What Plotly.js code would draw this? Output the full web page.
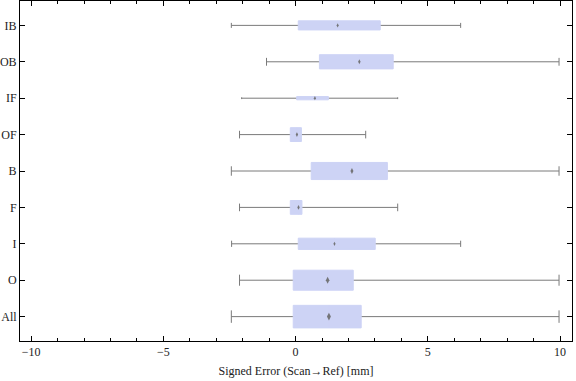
<!DOCTYPE html>
<html>
<head>
<meta charset="utf-8">
<script src="https://cdn.plot.ly/plotly-3.0.1.min.js"></script>
<style>html,body{margin:0;padding:0;background:#fff;}#chart{width:576px;height:381px;}</style>
</head>
<body>
<div id="chart"></div>
<script>
// Data (bottom to top)
var categories = ['All', 'O', 'I', 'F', 'B', 'OF', 'IF', 'OB', 'IB'];
var whiskerLow = [-2.43, -2.12, -2.42, -2.12, -2.43, -2.12, -2.04, -1.10, -2.43];
var q1Values = [-0.09, -0.09, 0.10, -0.20, 0.59, -0.20, 0.04, 0.90, 0.10];
var medianValues = [1.26, 1.21, 1.47, 0.11, 2.13, 0.05, 0.73, 2.41, 1.59];
var q3Values = [2.48, 2.18, 3.01, 0.24, 3.47, 0.22, 1.24, 3.69, 3.20];
var whiskerHigh = [9.96, 9.96, 6.24, 3.86, 9.96, 2.65, 3.86, 9.96, 6.24];
var xTickValues = [-10, -5, 0, 5, 10];

// Styles
var boxWidths = [0.62, 0.55, 0.31, 0.38, 0.47, 0.38, 0.09, 0.39, 0.25];
var fillColor = '#cdd3f5';
var whiskerColor = '#7a7a7a';
var font = 'Liberation Serif, Times New Roman, serif';

var traces = [];
for (var i = 0; i < categories.length; i++) {
  // whiskers (box collapsed at the median, hidden behind the filled box)
  traces.push({
    type: 'box', orientation: 'h',
    y: [categories[i]],
    lowerfence: [whiskerLow[i]], q1: [medianValues[i]], median: [medianValues[i]],
    q3: [medianValues[i]], upperfence: [whiskerHigh[i]],
    width: boxWidths[i] * 0.6, whiskerwidth: 0.92,
    line: {color: whiskerColor, width: 1},
    fillcolor: 'rgba(0,0,0,0)', boxpoints: false, hoverinfo: 'skip', showlegend: false
  });
  // filled interquartile box
  traces.push({
    type: 'box', orientation: 'h',
    y: [categories[i]],
    lowerfence: [q1Values[i]], q1: [q1Values[i]], median: [medianValues[i]],
    q3: [q3Values[i]], upperfence: [q3Values[i]],
    width: boxWidths[i], whiskerwidth: 0,
    line: {color: fillColor, width: 1},
    fillcolor: fillColor, boxpoints: false, hoverinfo: 'skip', showlegend: false
  });
}
var pxPerUnit = 340 / 9.34;
traces.push({
  type: 'scatter', mode: 'markers',
  x: medianValues, y: categories,
  marker: {
    symbol: 'diamond-tall', color: '#6a6a6a', opacity: 0.9,
    line: {width: 0},
    size: boxWidths.map(function (w) { return Math.max(3, w * pxPerUnit * 0.25); })
  },
  hoverinfo: 'skip', showlegend: false
});

var layout = {
  width: 576, height: 381,
  margin: {l: 20, r: 4, t: 1, b: 40},
  paper_bgcolor: '#fff', plot_bgcolor: '#fff',
  font: {family: font, size: 12, color: '#222'},
  showlegend: false,
  boxmode: 'overlay',
  xaxis: {
    range: [-10.42, 10.45],
    tickvals: xTickValues,
    ticks: 'inside', ticklen: 5, tickcolor: '#000', tickwidth: 1,
    minor: {dtick: 1, ticks: 'inside', ticklen: 3, tickcolor: '#000', tickwidth: 1},
    showline: true, linecolor: '#000', linewidth: 1, mirror: 'ticks',
    showgrid: false, zeroline: false,
    tickfont: {family: font, size: 12, color: '#222'},
    title: {text: 'Signed Error (Scan\u2192Ref) [mm]', font: {family: font, size: 12, color: '#222'}, standoff: 8}
  },
  yaxis: {
    type: 'category', categoryorder: 'array', categoryarray: categories,
    range: [-0.67, 8.67],
    ticks: 'inside', ticklen: 5, tickcolor: '#000', tickwidth: 1,
    showline: true, linecolor: '#000', linewidth: 1, mirror: 'ticks',
    showgrid: false, zeroline: false,
    tickfont: {family: font, size: 12, color: '#222'}
  }
};

Plotly.newPlot('chart', traces, layout, {staticPlot: true, displayModeBar: false});
</script>
</body>
</html>
